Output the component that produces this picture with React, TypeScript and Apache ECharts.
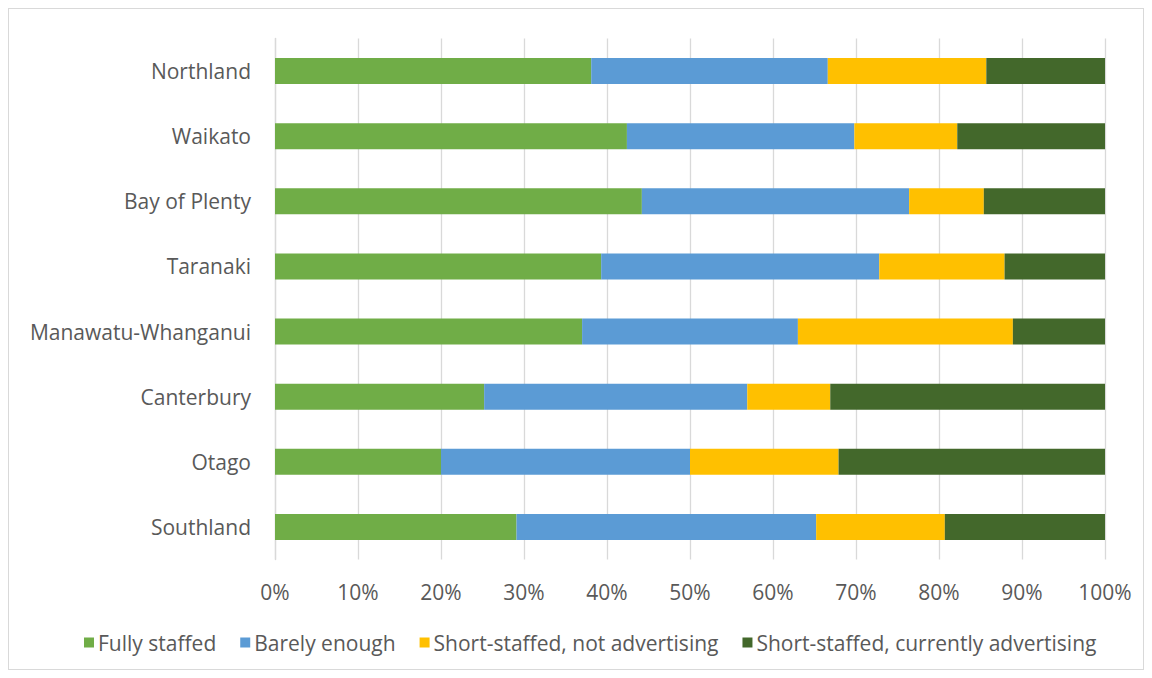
import React, { useEffect, useRef } from "react";
import * as echarts from "echarts";

const regions = ["Northland", "Waikato", "Bay of Plenty", "Taranaki", "Manawatu-Whanganui", "Canterbury", "Otago", "Southland"];
const fullyStaffed = [38.1, 42.4, 44.2, 39.3, 37.0, 25.2, 20.0, 29.1];
const barelyEnough = [28.5, 27.4, 32.2, 33.5, 26.0, 31.7, 30.0, 36.1];
const shortNotAdvertising = [19.1, 12.4, 9.0, 15.1, 25.9, 10.0, 17.9, 15.5];
const shortAdvertising = [14.3, 17.8, 14.6, 12.1, 11.1, 33.1, 32.1, 19.3];

const seriesNames = ["Fully staffed", "Barely enough", "Short-staffed, not advertising", "Short-staffed, currently advertising"];
const seriesData = [fullyStaffed, barelyEnough, shortNotAdvertising, shortAdvertising];
const colors = ["#70ad47", "#5b9bd5", "#ffc000", "#43682b"];

const FONT = "Open Sans";

export default function App() {
  const ref = useRef<HTMLDivElement>(null);
  useEffect(() => {
    if (!ref.current) return;
    const chart = echarts.init(ref.current, undefined, { renderer: "svg" });
    chart.setOption({
      animation: false,
      backgroundColor: "#ffffff",
      textStyle: { fontFamily: FONT },
      grid: { left: 266, right: 38, top: 29.5, bottom: 109.5 },
      legend: {
        bottom: 11,
        left: 70,
        icon: "rect",
        itemWidth: 10,
        itemHeight: 10,
        itemGap: 24,
        textStyle: { fontFamily: FONT, fontSize: 21, color: "#595959", padding: [0, 0, 0, -1] },
        data: seriesNames,
      },
      xAxis: {
        type: "value",
        min: 0,
        max: 100,
        interval: 10,
        axisLabel: { formatter: "{value}%", fontSize: 21, color: "#595959", fontFamily: FONT, margin: 22 },
        axisLine: { show: false },
        axisTick: { show: false },
        splitLine: { lineStyle: { color: "#d9d9d9", width: 1.3 } },
      },
      yAxis: {
        type: "category",
        inverse: true,
        data: regions,
        axisLabel: { fontSize: 21, color: "#595959", fontFamily: FONT, margin: 24 },
        axisLine: { lineStyle: { color: "#d9d9d9", width: 1.3 } },
        axisTick: { show: false },
      },
      series: seriesData.map((d, i) => ({
        name: seriesNames[i],
        type: "bar",
        stack: "total",
        data: d,
        barWidth: 26,
        itemStyle: { color: colors[i] },
      })),
    });
    return () => chart.dispose();
  }, []);
  return (
    <div
      ref={ref}
      style={{ width: 1134, height: 660, border: "1px solid #d9d9d9", boxSizing: "content-box" }}
    />
  );
}
